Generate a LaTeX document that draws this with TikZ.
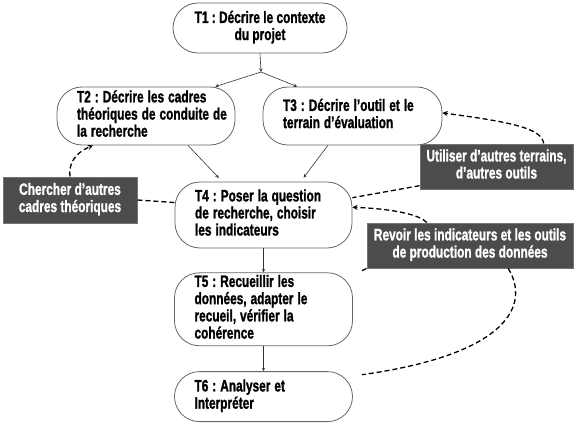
\documentclass[tikz,border=0pt]{standalone}
\usepackage{fontspec}
\setmainfont{Liberation Sans}[BoldFeatures={FakeBold=1.5}]
\usetikzlibrary{arrows, positioning}
% texte serre, comme une police etroite
\newcommand{\tachetxt}[1]{\scalebox{0.72}[1]{\begin{tabular}{@{}l@{}}#1\end{tabular}}}
\newcommand{\notetxt}[1]{\scalebox{0.72}[1]{\begin{tabular}{@{}c@{}}#1\end{tabular}}}
\frenchspacing
\tikzset{
    mydebut/.style = {
        rectangle,
        rounded corners=25pt,
        draw=black!60,
        fill=white,
        line width=0.8pt,
        minimum width=174pt,
        minimum height=50pt,
        inner sep=2pt,
        align=center
    },
    mytache/.style = {
        rectangle,
        rounded corners=25pt,
        draw=black!60,
        fill=white,
        line width=0.8pt,
        inner xsep=20pt,
        inner ysep=2pt,
        align=left
    },
    mynote/.style = {
        rectangle,
        draw=black!55,
        fill=black!70,
        text=white,
        line width=1pt,
        inner sep=2pt,
        align=center
    },
    myarrow/.style = {
        line width=0.6pt,
        draw=black!80,
        ->,
        >=stealth
    },
    mydash/.style = {
        line width=1.3pt,
        dash pattern=on 5pt off 3pt
    },
    mydasharrow/.style = {
        mydash,
        ->,
        >=stealth
    }
}

\begin{document}
\begin{tikzpicture}[x=1pt, y=1pt, font=\fontsize{16.5}{17}\selectfont\bfseries]

\useasboundingbox (0,0) rectangle (580,424);

% Les taches
\node (t1) [mydebut] at (260,396) {\notetxt{T1 : Décrire le contexte\\du projet}};
\node (t2) [mytache, text width=138pt, minimum height=58pt] at (146,308) {\tachetxt{T2 : Décrire les cadres\\théoriques de conduite de\\la recherche}};
\node (t3) [mytache, text width=139pt, minimum height=58pt] at (352.5,308) {\tachetxt{T3 : Décrire l’outil et le\\terrain d’évaluation}};
\node (t4) [mytache, text width=137pt, minimum height=66pt] at (263.5,209) {\tachetxt{T4 : Poser la question\\de recherche, choisir\\les indicateurs}};
\node (t5) [mytache, text width=138pt, minimum height=73pt, below=24pt of t4] {\tachetxt{T5 : Recueillir les\\données, adapter le\\recueil, vérifier la\\cohérence}};
\node (t6) [mytache, text width=138pt, minimum height=50pt, below=25pt of t5] {\tachetxt{T6 : Analyser et\\Interpréter}};

% Les retours possibles
\node (chercher) [mynote, minimum width=134pt, minimum height=46pt] at (70,224) {\notetxt{Chercher d’autres\\cadres théoriques}};
\node (utiliser) [mynote, minimum width=153pt, minimum height=45pt] at (496.5,257.5) {\notetxt{Utiliser d’autres terrains,\\d’autres outils}};
\node (revoir) [mynote, minimum width=206pt, minimum height=45pt] at (470,178.5) {\notetxt{Revoir les indicateurs et les outils\\de production des données}};

% Enchainement des taches
\coordinate (fourche) at (261,352);
\draw [myarrow] (t1.south) -- (fourche);
\draw [myarrow] (fourche) -- (t2.23);
\draw [myarrow] (fourche) -- (t3.152);
\draw [myarrow, shorten >=5pt] (t2.-35) -- (t4.141);
\draw [myarrow, shorten >=5pt] (t3.-130) -- (t4.42);
\draw [myarrow] (t4) -- (t5);
\draw [myarrow] (t5) -- (t6);

% Boucles en pointilles
\draw [mydasharrow] (chercher.north) .. controls (68,266) and (82,274) .. (t2.209);
\draw [mydash] (chercher.east) -- (t4.172);
\draw [mydasharrow] (utiliser.26) .. controls (542,296) and (510,302) .. (t3.2);
\draw [mydash] (utiliser.194) -- (t4.11);
\draw [mydasharrow] (revoir.152) .. controls (420,209) and (395,215) .. (t4.5);
\draw [mydash, shorten >=9pt] (revoir.south west) -- (t5.21);
\draw [mydash, shorten >=9pt] (revoir.-31) .. controls (530,120) and (510,70) .. (t6.13);

\end{tikzpicture}
\end{document}
